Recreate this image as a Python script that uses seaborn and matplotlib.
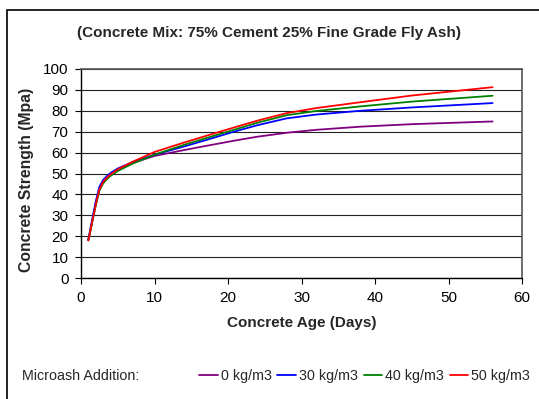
import matplotlib
matplotlib.use("Agg")
import matplotlib.pyplot as plt
import matplotlib.patches as mpatches
import seaborn as sns
import pandas as pd

days = [1, 2, 2.5, 3, 3.5, 4, 5, 7, 10, 14, 17, 21, 24, 28, 32, 38, 45, 56]
s_0 = [18.0, 35.5, 42.8, 46.3, 48.3, 49.8, 52.0, 55.0, 58.4, 61.2, 63.2, 65.8, 67.6, 69.5, 70.9, 72.4, 73.6, 74.9]
s_30 = [18.5, 36.5, 43.6, 46.8, 48.7, 50.2, 52.4, 55.4, 59.0, 62.9, 66.0, 70.2, 73.1, 76.4, 78.2, 80.0, 81.6, 83.7]
s_40 = [18.0, 34.5, 41.8, 45.2, 47.2, 48.8, 51.2, 54.7, 59.0, 63.7, 66.9, 71.1, 74.3, 77.9, 79.9, 82.1, 84.4, 87.2]
s_50 = [18.0, 35.0, 42.3, 46.0, 47.9, 49.5, 52.0, 55.6, 60.3, 64.8, 68.0, 72.2, 75.3, 78.9, 81.3, 84.1, 87.3, 91.3]
labels = ["0 kg/m3", "30 kg/m3", "40 kg/m3", "50 kg/m3"]
colors = ["#800080", "#0000FF", "#008000", "#FF0000"]

title = "(Concrete Mix: 75% Cement 25% Fine Grade Fly Ash)"
xlabel = "Concrete Age (Days)"
ylabel = "Concrete Strength (Mpa)"
legend_title = "Microash Addition:"

rows = []
for lab, vals in zip(labels, [s_0, s_30, s_40, s_50]):
    for d, v in zip(days, vals):
        rows.append({"Day": d, "Strength": v, "Series": lab})
df = pd.DataFrame(rows)

sns.set_theme(style="white")
plt.rcParams["font.family"] = ["Liberation Sans", "DejaVu Sans"]

W, H = 539, 399
fig = plt.figure(figsize=(W / 100, H / 100), dpi=100)
ax = fig.add_axes([81 / W, 1 - 278 / H, (522 - 81) / W, (278 - 69) / H])

sns.lineplot(data=df, x="Day", y="Strength", hue="Series", hue_order=labels,
             palette=colors, linewidth=1.3, ax=ax, legend=False)
for ln in ax.get_lines():
    ln.set_solid_joinstyle("round")

ax.set_xlim(0, 60)
ax.set_ylim(0, 100)
ax.set_xticks(range(0, 61, 10))
ax.set_yticks(range(0, 101, 10))
ax.yaxis.grid(True, color="#222222", linewidth=0.8)
ax.set_axisbelow(True)
ax.tick_params(axis="both", which="major", labelsize=11, colors="black",
               direction="out", length=4, width=0.8, pad=5, left=True, bottom=True)
for side in ["left", "bottom"]:
    ax.spines[side].set_color("black")
    ax.spines[side].set_linewidth(1.0)
for side in ["top", "right"]:
    ax.spines[side].set_color("#555555")
    ax.spines[side].set_linewidth(1.2)

ax.set_xlabel(xlabel, fontsize=11, fontweight="bold", labelpad=8)
ax.set_ylabel(ylabel, fontsize=11.3, fontweight="bold", va="center")
ax.yaxis.set_label_coords((27 - 81) / 441, (278 - 180) / 209)

fig.text(269 / W, 1 - 33 / H, title, ha="center", va="center",
         fontsize=11, fontweight="bold")

fig.text(22 / W, 1 - 376 / H, legend_title, ha="left", va="center", fontsize=10.3)
handles = [plt.Line2D([], [], color=c, linewidth=1.3) for c in colors]
leg = fig.legend(handles, labels, loc="center right",
                 bbox_to_anchor=(530 / W, 1 - 376 / H), ncol=4, frameon=False,
                 fontsize=10.3, handlelength=1.3, handletextpad=0.2,
                 columnspacing=0.4, borderaxespad=0, borderpad=0)

border = mpatches.Rectangle((7 / W, -1), 3, 1 - 10 / H + 1, transform=fig.transFigure,
                            fill=False, edgecolor="black", linewidth=1.2)
fig.patches.append(border)

fig.savefig("out.png", dpi=100, facecolor="white")
